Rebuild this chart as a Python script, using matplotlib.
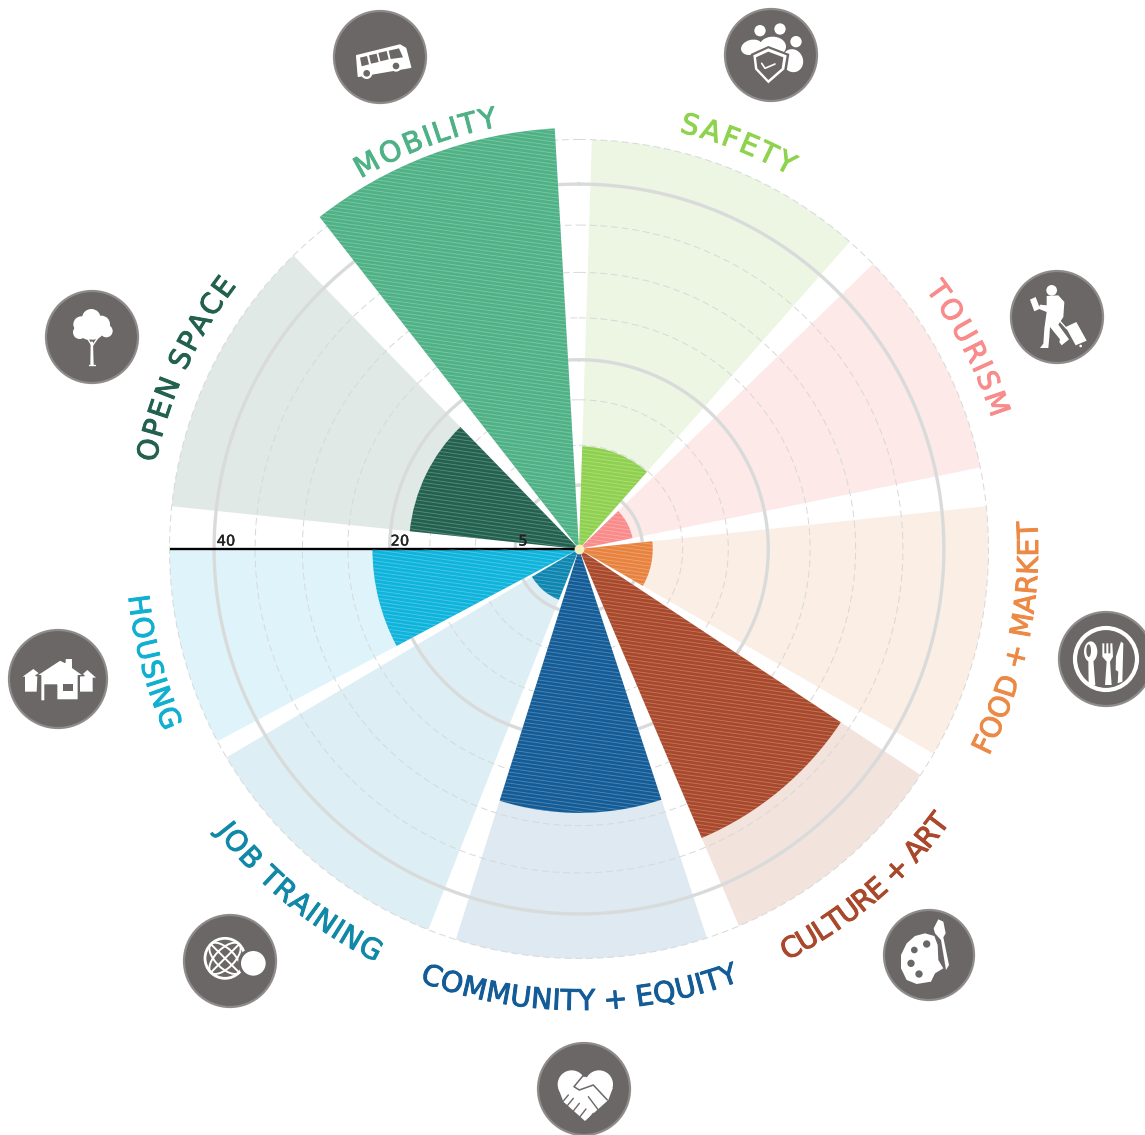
import numpy as np
import matplotlib
matplotlib.use('Agg')
import matplotlib.pyplot as plt
import matplotlib.patheffects as pe
from matplotlib.collections import LineCollection
from matplotlib.font_manager import FontProperties
from matplotlib.patches import Circle, Ellipse, Polygon
from matplotlib.textpath import text_to_path

# data (angles clockwise from north, degrees)
categories = ['SAFETY', 'TOURISM', 'FOOD + MARKET', 'CULTURE + ART', 'COMMUNITY + EQUITY',
              'JOB TRAINING', 'HOUSING', 'OPEN SPACE', 'MOBILITY']
values = [11.3, 6.0, 8.1, 34.5, 29.0, 6.0, 22.7, 18.7, 46.3]
sector_start = [1.8, 45.9, 84.0, 123.5, 161.8, 201.6, 242.0, 276.0, 322.0]
sector_end = [41.4, 78.5, 120.0, 157.0, 197.5, 239.4, 270.0, 315.8, 356.7]
bar_colors = ['#8FD14F', '#F98B8B', '#E8833F', '#A9482A', '#135C97',
              '#0E86B0', '#0FB4DC', '#23614F', '#4FB286']
back_colors = ['#EDF6E3', '#FDE9E8', '#FBEEE5', '#F2E3DD', '#DFE9F1',
               '#DDEEF5', '#DFF4FA', '#E1E9E7', '#FFFFFF']
text_colors = ['#8ED34E', '#F98B8B', '#EC8A45', '#A9482A', '#135C97',
               '#1088A8', '#10B0D0', '#23614F', '#4FB286']
thick_rings = [7.0, 20.8, 40.1]
dashed_rings = [11.4, 16.4, 25.4, 30.4, 35.6, 45.0]
tick_labels = ['40', '20', '5']

# placement of curved labels: angle of first and last letter, radius in pixels
label_from = [14.7, 54.3, 115.8, 152.0, 199.0, 231.6, 262.7, 283.0, 331.1]
label_to = [28.2, 70.8, 87.6, 127.4, 160.7, 207.5, 247.6, 306.4, 348.0]
label_r = [437, 441, 451, 453, 453, 452, 445, 440, 438]

W, H = 1145, 1135
cx, cy = 579, 549
px_per_unit = 9.1
rmax = 50

fig = plt.figure(figsize=(W / 100, H / 100), dpi=100, facecolor='white')
R = rmax * px_per_unit
ax = fig.add_axes([(cx - R) / W, (H - cy - R) / H, 2 * R / W, 2 * R / H], projection='polar')
ax.set_theta_zero_location('N')
ax.set_theta_direction(-1)
ax.set_ylim(0, rmax)
ax.axis('off')

start = np.radians(sector_start)
end = np.radians(sector_end)
mid = (start + end) / 2
width = end - start

# pale full sectors, rings, then the real bars
ax.bar(mid, [45] * len(mid), width=width, color=back_colors, linewidth=0, zorder=1)
circle = np.linspace(0, 2 * np.pi, 361)
for r in dashed_rings:
    ax.plot(circle, [r] * 361, color='#d6d9d9', lw=0.7, ls=(0, (7, 4)), zorder=2)
for r in thick_rings:
    ax.plot(circle, [r] * 361, color='#d9dbdb', lw=2.4, zorder=2)
bars = ax.bar(mid, values, width=width, color=bar_colors, linewidth=0, zorder=3)
ax.plot([np.radians(270)] * 2, [0, 45], color='black', lw=1.7, zorder=4, solid_capstyle='butt')
ax.scatter([0], [0], s=50, color='#F6EDB8', linewidth=0, zorder=5)

# overlay in image pixels for stripes, text and icons
ov = fig.add_axes([0, 0, 1, 1], facecolor='none')
ov.set_xlim(0, W)
ov.set_ylim(H, 0)
ov.axis('off')

# fine light stripes inside each bar
slope = np.tan(np.radians(8))
offsets = np.arange(-200, H + 200, 3.7)
segs = [[(0, y), (W, y + W * slope)] for y in offsets - 80]
for bar in bars:
    lc = LineCollection(segs, colors='white', linewidths=0.65, alpha=0.25, zorder=3)
    ov.add_collection(lc)
    lc.set_clip_path(bar.get_path(), bar.get_transform())

for lab, x in zip(tick_labels, [226, 400, 523]):
    ov.text(x, 541, lab, fontsize=10.5, ha='center', va='center', color='#222222',
            family='DejaVu Sans', path_effects=[pe.withStroke(linewidth=0.3, foreground='#222222')])


def curved(text, a0, a1, r, color):
    fs = 20.5
    fp = FontProperties(family='DejaVu Sans', size=fs, weight='normal')
    widths = []
    for ch in text:
        if ch == ' ':
            widths.append(fs * 0.3)
        else:
            widths.append(text_to_path.get_text_width_height_descent(ch, fp, False)[0])
    widths = np.array(widths)
    centers = np.cumsum(widths) - widths / 2
    frac = (centers - centers[0]) / (centers[-1] - centers[0])
    flip = a1 < a0
    for ch, f in zip(text, frac):
        if ch == ' ':
            continue
        a = a0 + (a1 - a0) * f
        x = cx + r * np.sin(np.radians(a))
        y = cy - r * np.cos(np.radians(a))
        rot = 180 - a if flip else -a
        ov.text(x, y, ch, fontproperties=fp, color=color, rotation=rot, rotation_mode='anchor',
                ha='center', va='center', zorder=6,
                path_effects=[pe.withStroke(linewidth=0.7, foreground=color)])


for i in range(len(categories)):
    curved(categories[i], label_from[i], label_to[i], label_r[i], text_colors[i])

GREY = '#6B6766'


def pts(ox, oy, p):
    return [(ox + a / 3, oy + b / 3) for a, b in p]


def disc(x, y, r):
    ov.add_patch(Circle((x, y), r, fc=GREY, ec='#8F8B8B', lw=1.6, zorder=7))


def poly(ox, oy, p, color='white', **kw):
    ov.add_patch(Polygon(pts(ox, oy, p), closed=True, fc=color, ec=kw.pop('ec', 'none'), zorder=kw.pop('z', 8),
                         joinstyle='round', **kw))


def dot(ox, oy, x, y, r, color='white', z=8):
    ov.add_patch(Circle((ox + x / 3, oy + y / 3), r / 3, fc=color, ec='none', zorder=z))


def ell(ox, oy, x, y, w, h, color='white', angle=0, z=8):
    ov.add_patch(Ellipse((ox + x / 3, oy + y / 3), w / 3, h / 3, angle=angle, fc=color, ec='none', zorder=z))


def stroke(ox, oy, p, color=GREY, lw=1.0, z=9):
    q = pts(ox, oy, p)
    ov.plot([a for a, b in q], [b for a, b in q], color=color, lw=lw, zorder=z,
            solid_capstyle='round', solid_joinstyle='round')


# bus
ox, oy = 325, 5
disc(380, 57, 46)
poly(ox, oy, [(95, 152), (225, 120), (242, 130), (257, 187), (100, 214)], ec='white', lw=1)
for w in [[(105, 158), (126, 153), (132, 178), (110, 184)], [(132, 151), (155, 146), (161, 171), (138, 176)],
          [(160, 144), (185, 138), (191, 163), (166, 169)], [(191, 137), (222, 130), (234, 157), (197, 162)]]:
    poly(ox, oy, w, color=GREY, z=9)
for x, y in [(125, 205), (213, 183)]:
    dot(ox, oy, x, y, 17, z=9)
    dot(ox, oy, x, y, 10, color=GREY, z=10)

# safety
ox, oy = 700, 0
disc(771, 55, 46)
for x, y in [(180, 92), (240, 87), (288, 125)]:
    dot(ox, oy, x, y, 17)
ell(ox, oy, 155, 142, 65, 45, angle=-15)
ell(ox, oy, 218, 140, 80, 60)
ell(ox, oy, 278, 182, 62, 70, angle=-20)
poly(ox, oy, [(205, 138), (268, 162), (260, 212), (205, 258), (158, 212), (152, 162)], color=GREY, z=9)
poly(ox, oy, [(205, 145), (260, 166), (253, 208), (205, 250), (165, 208), (160, 166)], z=10)
poly(ox, oy, [(205, 155), (250, 172), (245, 205), (205, 240), (172, 205), (168, 172)], color=GREY, z=11)
stroke(ox, oy, [(185, 190), (195, 205), (225, 192)], color='white', lw=1.2, z=12)

# tourism
ox, oy = 1005, 262
disc(1057, 317, 46)
dot(ox, oy, 140, 85, 16)
poly(ox, oy, [(125, 102), (160, 100), (178, 120), (175, 165), (160, 188), (192, 232), (170, 250), (163, 240),
              (165, 232), (135, 195), (133, 225), (130, 258), (105, 258), (115, 245), (118, 200), (125, 150),
              (100, 140), (105, 128), (125, 130)])
poly(ox, oy, [(75, 113), (92, 105), (105, 140), (88, 148)])
poly(ox, oy, [(182, 195), (214, 180), (245, 236), (212, 250)])
stroke(ox, oy, [(160, 172), (185, 200)], color='white', lw=1.0)
dot(ox, oy, 227, 252, 4)

# food
ox, oy = 1045, 600
disc(1106, 659, 47)
ov.add_patch(Circle((1106, 659), 31, fc='none', ec='white', lw=3, zorder=8))
ell(ox, oy, 137, 155, 40, 62)
ell(ox, oy, 131, 152, 14, 38, color=GREY, z=9)
poly(ox, oy, [(130, 180), (145, 180), (151, 255), (131, 255)])
poly(ox, oy, [(172, 130), (178, 130), (178, 160), (184, 160), (184, 130), (190, 130), (190, 160), (196, 160), (196, 130),
              (202, 130), (204, 170), (195, 185), (200, 255), (180, 255), (185, 185), (172, 170)])
poly(ox, oy, [(213, 170), (228, 125), (235, 130), (232, 245), (218, 250), (220, 215), (212, 210)])

# culture
ox, oy = 875, 900
disc(929, 955, 45)
poly(ox, oy, [(150, 100), (178, 108), (188, 135), (190, 180), (205, 205), (180, 220), (168, 245), (125, 252), (95, 240),
              (78, 205), (78, 165), (95, 130), (120, 108)])
for x, y, r in [(155, 132, 11), (118, 150, 10), (108, 190, 11), (132, 222, 11)]:
    dot(ox, oy, x, y, r, color=GREY, z=9)
poly(ox, oy, [(190, 58), (205, 65), (212, 100), (205, 112), (222, 195), (213, 210), (198, 120), (180, 100), (176, 85)])

# community
ox, oy = 530, 1035
disc(584, 1089, 46)
dot(ox, oy, 125, 148, 42)
dot(ox, oy, 207, 148, 42)
poly(ox, oy, [(85, 160), (165, 125), (248, 160), (235, 195), (165, 258), (100, 200)])
stroke(ox, oy, [(165, 115), (132, 155), (148, 165), (190, 150), (232, 195)], lw=1.1)
for p in [[(115, 180), (100, 198)], [(130, 190), (112, 212)], [(148, 205), (130, 228)], [(168, 222), (150, 245)],
          [(190, 235), (175, 255)]]:
    stroke(ox, oy, p, lw=1.0)
stroke(ox, oy, [(175, 185), (205, 225)], lw=1.0)

# job training
ox, oy = 175, 905
disc(230, 961, 46)
gx, gy = ox + 150 / 3, oy + 160 / 3
ov.add_patch(Circle((gx, gy), 20, fc='none', ec='white', lw=2.0, zorder=8))
for angle in [45, -45]:
    ov.add_patch(Ellipse((gx, gy), 40, 19, angle=angle, fc='none', ec='white', lw=1.4, zorder=8))
    d = np.radians(angle)
    ov.plot([gx - 20 * np.cos(d), gx + 20 * np.cos(d)], [gy - 20 * np.sin(d), gy + 20 * np.sin(d)],
            color='white', lw=1.4, zorder=8)
dot(ox, oy, 235, 175, 46, color=GREY, z=9)
dot(ox, oy, 235, 175, 37, z=10)

# housing
ox, oy = 0, 625
disc(58, 679, 49)
poly(ox, oy, [(68, 155), (100, 132), (118, 146), (112, 155), (110, 200), (75, 200), (75, 155)])
poly(ox, oy, [(240, 155), (262, 135), (288, 158), (278, 158), (278, 200), (240, 200)])
poly(ox, oy, [(108, 152), (180, 105), (195, 112), (195, 100), (218, 100), (218, 128), (252, 152), (235, 152), (235, 225),
              (170, 225), (170, 180), (135, 180), (135, 228), (122, 228), (122, 152)], ec=GREY, lw=1, z=9)
poly(ox, oy, [(188, 178), (218, 178), (218, 198), (188, 198)], color=GREY, z=10)

# open space
ox, oy = 38, 285
disc(92, 337, 46)
for x, y, r in [(160, 100, 28), (130, 118, 24), (190, 118, 26), (125, 142, 20), (165, 130, 34), (205, 138, 19), (150, 140, 24)]:
    dot(ox, oy, x, y, r)
poly(ox, oy, [(158, 170), (165, 170), (167, 240), (157, 240)])
stroke(ox, oy, [(145, 155), (161, 180)], color='white', lw=1.0)
stroke(ox, oy, [(182, 155), (163, 182)], color='white', lw=1.0)
stroke(ox, oy, [(153, 240), (172, 240)], color='white', lw=1.0)

fig.savefig('out.png', dpi=100)
